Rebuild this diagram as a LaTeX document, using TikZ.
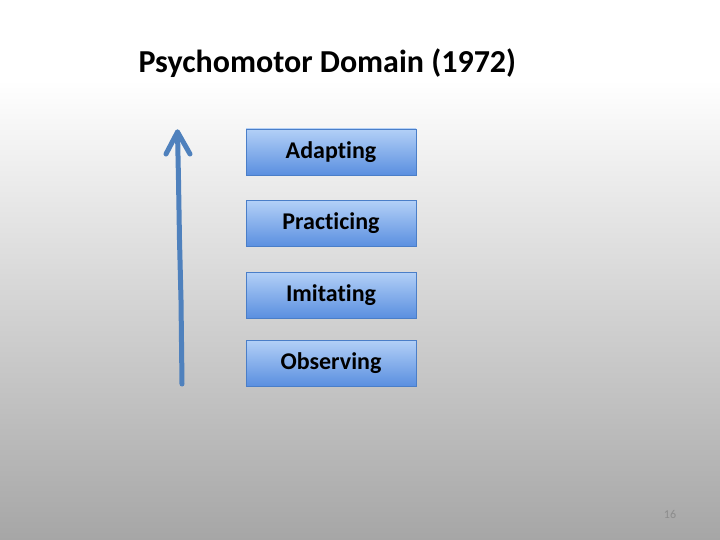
\documentclass[tikz,border=0pt]{standalone}
\usepackage{fontspec}
\setmainfont[Ligatures=NoCommon]{Carlito}
\usetikzlibrary{arrows.meta}
\definecolor{bgtop}{HTML}{FFFFFF}
\definecolor{bgbot}{HTML}{A6A6A6}
\definecolor{boxtop}{HTML}{B3D0F7}
\definecolor{boxbot}{HTML}{5A8FE0}
\definecolor{boxline}{HTML}{4A7EC8}
\definecolor{arrowblue}{HTML}{4F81BD}
\tikzset{
  stepbox/.style={draw=boxline, line width=0.8pt, top color=boxtop, bottom color=boxbot,
    minimum width=170pt, minimum height=46pt, inner sep=0pt,
    font=\fontsize{24}{28}\selectfont\bfseries, text=black},
  titletext/.style={font=\fontsize{32}{38}\selectfont\bfseries, text=black, anchor=west},
  growarrow/.style={draw=arrowblue, line width=5pt, line cap=round, line join=round},
}
\begin{document}
\begin{tikzpicture}[x=1pt,y=-1pt]
\useasboundingbox (0,0) rectangle (720,540);
\fill[bgtop] (0,0) rectangle (720,80);
\shade[top color=bgtop, bottom color=bgbot] (0,80) rectangle (720,540);
\node[titletext] (title) at (135,63) {Psychomotor Domain (1972)};
\node[stepbox] (adapt) at (331,152) {Adapting};
\node[stepbox] (pract) at (331,223.5) {Practicing};
\node[stepbox] (imit) at (331,295) {Imitating};
\node[stepbox] (obs) at (331,363) {Observing};
\coordinate (abase) at (182,384);
\coordinate (atip) at (177.5,132);
\draw[growarrow] (abase) -- (181,300) -- (179.5,240) -- (178.5,180) -- (atip);
\draw[growarrow] (166,154) -- (atip) -- (190,154);
\node[font=\fontsize{12}{14}\selectfont, text=gray!90] (pnum) at (670,514) {16};
\end{tikzpicture}
\end{document}
